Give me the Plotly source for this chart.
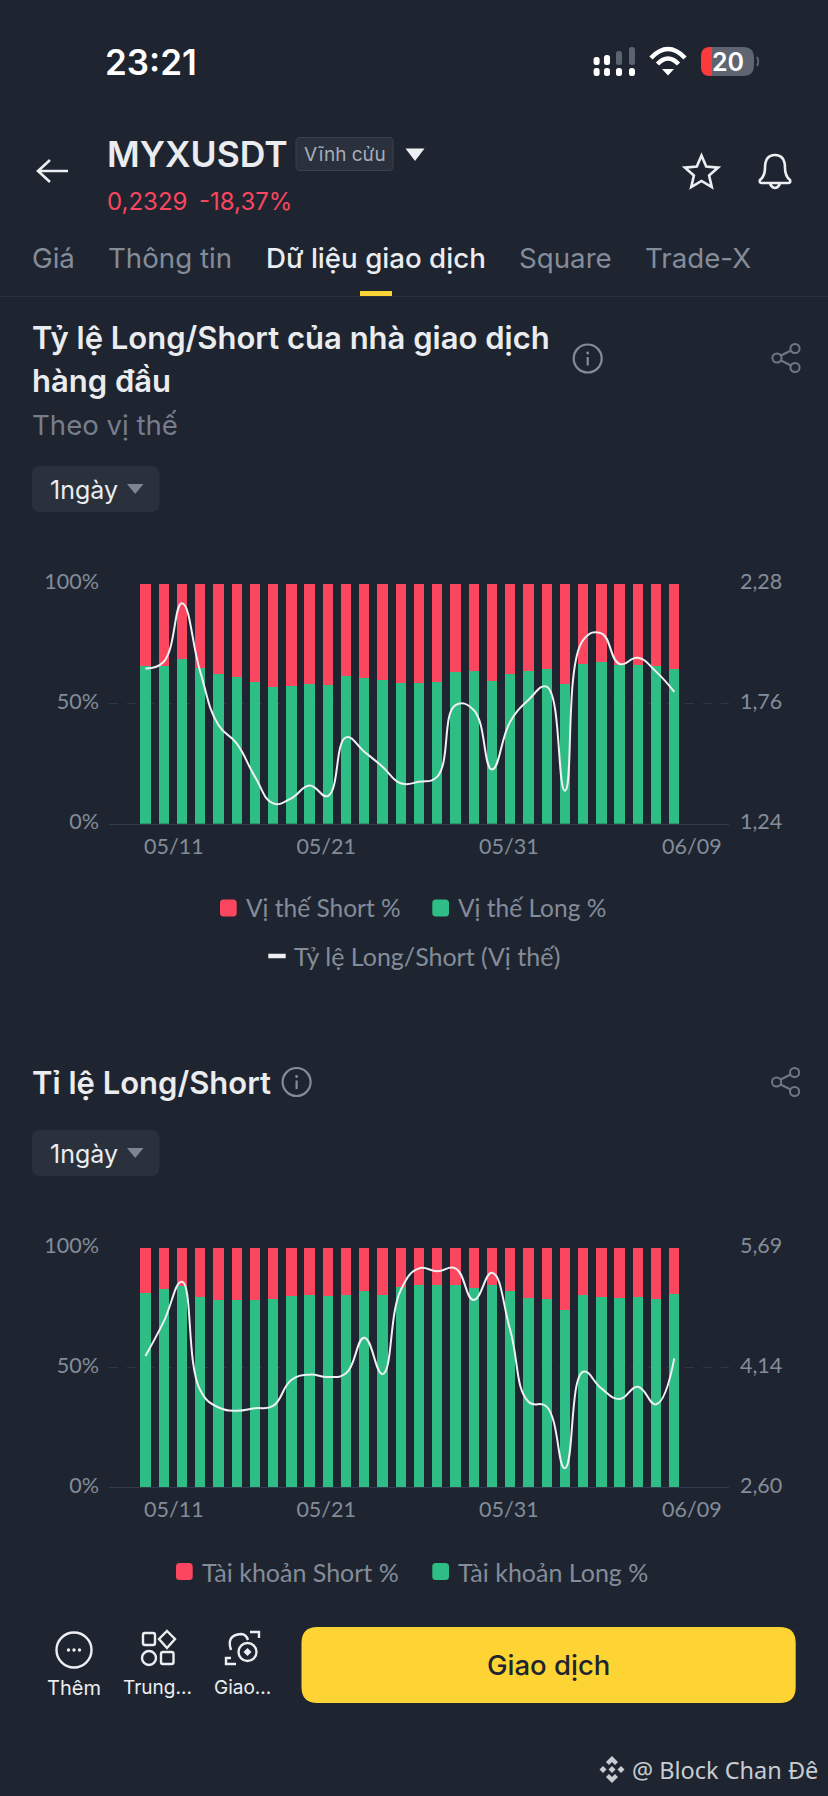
import re, math
import plotly.graph_objects as go

W, H = 828, 1796
BG = "#1e2530"
RED = "#fa465f"
GREEN = "#2ebd85"
GRAY = "#848c99"
FONT = "Inter"
CHART_FONT = "Lato"

DATES = ["05/11","05/12","05/13","05/14","05/15","05/16","05/17","05/18","05/19","05/20",
         "05/21","05/22","05/23","05/24","05/25","05/26","05/27","05/28","05/29","05/30",
         "05/31","06/01","06/02","06/03","06/04","06/05","06/06","06/07","06/08","06/09"]
TICK_TEXT = ["05/11", "05/21", "05/31", "06/09"]

POS_LONG = [65.6,65.8,68.5,65.0,62.5,61.1,58.9,56.8,57.2,58.3,57.6,61.7,60.8,59.7,58.5,
            58.6,59.2,63.3,63.5,59.4,62.5,63.8,64.6,58.1,66.7,67.4,66.0,66.1,65.6,64.3]
POS_SHORT = [34.4,34.2,31.5,35.0,37.5,38.9,41.1,43.2,42.8,41.7,42.4,38.3,39.2,40.3,41.5,
             41.4,40.8,36.7,36.5,40.6,37.5,36.2,35.4,41.9,33.3,32.6,34.0,33.9,34.4,35.7]
POS_RATIO = [1.913,1.942,2.195,1.899,1.668,1.588,1.444,1.328,1.350,1.406,1.360,1.614,1.552,1.487,1.415,
             1.422,1.444,1.754,1.733,1.475,1.682,1.776,1.834,1.383,2.036,2.065,1.932,1.959,1.899,1.811]
ACC_LONG = [80.9,82.6,84.0,79.4,78.3,78.2,78.3,78.6,79.8,80.1,80.0,80.4,81.8,80.3,83.4,
            84.3,84.3,84.3,83.3,84.3,82.1,79.0,78.4,74.1,80.1,79.4,78.9,79.6,78.6,80.8]
ACC_SHORT = [19.1,17.4,16.0,20.6,21.7,21.8,21.7,21.4,20.2,19.9,20.0,19.6,18.2,19.7,16.6,
             15.7,15.7,15.7,16.7,15.7,17.9,21.0,21.6,25.9,19.9,20.6,21.1,20.4,21.4,19.2]
ACC_RATIO = [4.293,4.736,5.252,3.855,3.631,3.588,3.619,3.649,3.984,4.053,4.023,4.070,4.530,4.061,5.144,
             5.424,5.385,5.424,5.015,5.368,4.628,3.704,3.640,2.845,4.091,3.876,3.739,3.898,3.670,4.263]

def fx(x): return x / W
def fy(y): return 1 - y / H

fig = go.Figure()
BAR_W = 0.565
LINE = "#eef0f2"

def add_chart(long_v, short_v, ratio, long_name, short_name, xa, ya, ya2, line_name):
    fig.add_bar(x=DATES, y=long_v, name=long_name, marker_color=GREEN, width=BAR_W, xaxis=xa, yaxis=ya, showlegend=False, marker_line_width=0)
    fig.add_bar(x=DATES, y=short_v, name=short_name, marker_color=RED, width=BAR_W, xaxis=xa, yaxis=ya, showlegend=False, marker_line_width=0)
    fig.add_scatter(x=DATES, y=ratio, name=line_name, mode="lines", line=dict(color=LINE, width=2, shape="spline", smoothing=1.3),
                    xaxis=xa, yaxis=ya2, showlegend=False)

add_chart(POS_LONG, POS_SHORT, POS_RATIO, "Vị thế Long %", "Vị thế Short %", "x", "y", "y3", "Tỷ lệ Long/Short (Vị thế)")
add_chart(ACC_LONG, ACC_SHORT, ACC_RATIO, "Tài khoản Long %", "Tài khoản Short %", "x2", "y2", "y4", "Tỉ lệ Long/Short")

axis_font = dict(family=CHART_FONT, size=21.5, color=GRAY)
GRID = "#2f3743"
XDOM = [fx(109), fx(729)]
def xaxis(anchor):
    return dict(domain=XDOM, anchor=anchor, type="category", categoryorder="array", categoryarray=DATES, automargin=False,
                range=[-2, 32], tickmode="array", tickvals=[1.56, 9.91, 19.93, 29.96], ticktext=TICK_TEXT,
                showgrid=False, zeroline=False, showline=True, linecolor="#343c49", linewidth=1,
                ticks="", tickfont=axis_font, ticklabelstandoff=3)
def yleft(dom, anchor):
    return dict(domain=dom, anchor=anchor, range=[0, 100], tickmode="array", tickvals=[0, 50, 100], automargin=False,
                ticktext=["0%", "50%", "100%"], showgrid=True, gridcolor=GRID, griddash="dash", gridwidth=1,
                zeroline=False, showline=False, ticks="", tickfont=axis_font, ticklabelstandoff=9, ticklabelshift=-2)
def yright(dom, anchor, over, rng, text):
    return dict(domain=dom, anchor=anchor, overlaying=over, side="right", range=[rng[0], rng[2]], tickmode="array", tickvals=rng,
                ticktext=text, showgrid=False, zeroline=False, showline=False, ticks="", tickfont=axis_font, automargin=False,
                ticklabelstandoff=10, ticklabelshift=-2)

D1 = [fy(823.7), fy(583.7)]
D2 = [fy(1487.3), fy(1247.7)]
layout = dict(
    width=W, height=H, autosize=False, margin=dict(l=0, r=0, t=0, b=0, pad=0),
    paper_bgcolor=BG, plot_bgcolor=BG, barmode="stack", showlegend=False, bargap=0.4,
    font=dict(family=FONT, color=GRAY),
    xaxis=xaxis("y"), xaxis2=xaxis("y2"),
    yaxis=yleft(D1, "x"), yaxis2=yleft(D2, "x2"),
    yaxis3=yright(D1, "x", "y", [1.24, 1.76, 2.28], ["1,24", "1,76", "2,28"]),
    yaxis4=yright(D2, "x2", "y2", [2.60, 4.14, 5.69], ["2,60", "4,14", "5,69"]),
)

ann, shp = [], []
def text(x, y, s, size, color=GRAY, anchor="left", weight=400, family=FONT):
    ann.append(dict(xref="paper", yref="paper", x=fx(x), y=fy(y), text=s, showarrow=False, xanchor=anchor, yanchor="middle",
                    borderpad=0, borderwidth=0, font=dict(family=family, size=size, color=color, weight=weight)))
def svg(d):
    toks = re.findall(r"[A-Za-z]|-?\d+\.?\d*", d)
    out, i = [], 0
    for t in toks:
        if t.isalpha():
            out.append(t); i = 0
        else:
            v = float(t)
            out.append(f"{(fx(v) if i % 2 == 0 else fy(v)):.6f}"); i += 1
    return " ".join(out)
def path(d, fill=None, stroke=None, width=2):
    s = dict(type="path", xref="paper", yref="paper", path=svg(d), line=dict(width=width if stroke else 0, color=stroke or "rgba(0,0,0,0)"))
    if fill: s["fillcolor"] = fill
    shp.append(s)
def rrect(x0, y0, x1, y1, r, fill=None, stroke=None, width=1):
    d = (f"M {x0+r} {y0} L {x1-r} {y0} Q {x1} {y0} {x1} {y0+r} L {x1} {y1-r} Q {x1} {y1} {x1-r} {y1} "
         f"L {x0+r} {y1} Q {x0} {y1} {x0} {y1-r} L {x0} {y0+r} Q {x0} {y0} {x0+r} {y0} Z")
    path(d, fill, stroke, width)
def circle(cx, cy, r, fill=None, stroke=None, width=2):
    s = dict(type="circle", xref="paper", yref="paper", x0=fx(cx-r), x1=fx(cx+r), y0=fy(cy-r), y1=fy(cy+r),
             line=dict(width=width if stroke else 0, color=stroke or "rgba(0,0,0,0)"))
    if fill: s["fillcolor"] = fill
    shp.append(s)

WHITE = "#eceef1"
# status bar
text(105, 62, "23:21", 35, "#ffffff", weight=600)
for cx, top, col in [(596.6, 57, "#ffffff"), (607, 55, "#ffffff"), (619, 51, "#5c6370"), (632, 47, "#5c6370")]:
    rrect(cx-3, top, cx+3, 65, 2.5, fill=col)
    rrect(cx-3, 68, cx+3, 76, 2.5, fill="#ffffff")
for r_, y_ in [(17, 58), (10.5, 64)]:
    path(f"M {668-r_} {y_} Q 668 {y_-r_*1.05} {668+r_} {y_}", stroke="#ffffff", width=4.5)
path("M 662 69 L 674 69 L 668 75.5 Z", fill="#ffffff")
rrect(701, 47, 754, 76, 11, fill="#5f6570")
path("M 712 47 L 712 76 L 710 76 Q 701 76 701 67 L 701 56 Q 701 47 710 47 Z", fill="#fb3b3b")
path("M 757 57 Q 759.5 61.5 757 66", stroke="#5f6570", width=2)
text(727.6, 62, "20", 25, "#ffffff", "center", 600)

# header
path("M 68 171 L 38 171 M 50 160 L 38 171 L 50 182", stroke=WHITE, width=2.6)
text(107, 154, "MYXUSDT", 35.5, "#eaecef", weight=600)
rrect(296, 137.5, 393, 170.5, 4, fill="#2a313d", stroke="#3a424f", width=1)
text(344.5, 154, "Vĩnh cửu", 19, "#a6adb8", "center")
path("M 405.5 148.5 L 424.5 148.5 L 415 161 Z", fill="#eef0f2")
text(107, 201, "0,2329", 24, RED)
text(199, 201, "-18,37%", 24, RED)
pts = []
for k in range(10):
    a = -math.pi/2 + k*math.pi/5
    r_ = 17.5 if k % 2 == 0 else 8
    pts.append((701.5 + r_*math.cos(a), 173 + r_*math.sin(a)))
path("M " + " L ".join(f"{a:.2f} {b:.2f}" for a, b in pts) + " Z", stroke=WHITE, width=2.6)
path("M 760 180 Q 765 176 765 168 Q 765 155 775 155 Q 785 155 785 168 Q 785 176 790 180 Q 791 183 788 183 L 762 183 Q 759 183 760 180 Z M 770 184 Q 775 192 780 184",
     stroke=WHITE, width=2.6)

# tabs
TAB = 27.7
text(32, 258, "Giá", TAB, "#848c99")
text(108, 258, "Thông tin", TAB, "#848c99")
text(266, 258, "Dữ liệu giao dịch", TAB, "#eaecef", weight=500)
text(518.5, 258, "Square", TAB, "#848c99")
text(645, 258, "Trade-X", TAB, "#848c99")
rrect(360, 291, 392, 296, 0, fill="#fcd535")
path("M 0 296.5 L 828 296.5", stroke="#2b323e", width=1)

def info(cx, cy, r=14):
    circle(cx, cy, r, stroke="#848c99", width=2.2)
    circle(cx, cy-5.5, 1.4, fill="#848c99")
    path(f"M {cx} {cy-1.5} L {cx} {cy+7}", stroke="#848c99", width=2.2)
def share(cx, cy):
    circle(cx-9, cy, 4.6, stroke="#6f7783", width=2)
    circle(cx+9, cy-9.5, 4.6, stroke="#6f7783", width=2)
    circle(cx+9, cy+9.5, 4.6, stroke="#6f7783", width=2)
    path(f"M {cx-5} {cy-2.5} L {cx+5} {cy-7.5} M {cx-5} {cy+2.5} L {cx+5} {cy+7.5}", stroke="#6f7783", width=2)
def dropdown(y0):
    rrect(32, y0, 159.5, y0+46, 9, fill="#2a313d")
    text(50, y0+23.5, "1ngày", 25, "#eaecef")
    path(f"M 127 {y0+18} L 143.5 {y0+18} L 135.2 {y0+28} Z", fill="#7d8592")

# chart 1 header
text(32, 337.5, "Tỷ lệ Long/Short của nhà giao dịch", 31, "#eaecef", weight=600)
text(32, 380.5, "hàng đầu", 31, "#eaecef", weight=600)
info(587.7, 358.5)
share(786, 358)
text(32, 425, "Theo vị thế", 27.6, "#767e8b")
dropdown(466)

# chart 1 legend
LEG = 24.5
rrect(220, 899.5, 236.7, 916.5, 3.5, fill=RED)
text(245.7, 907.7, "Vị thế Short %", LEG, family=CHART_FONT)
rrect(432.3, 899.5, 449, 916.5, 3.5, fill=GREEN)
text(457.7, 907.7, "Vị thế Long %", LEG, family=CHART_FONT)
path("M 268.3 956 L 285.7 956", stroke=LINE, width=4.5)
text(294.3, 956, "Tỷ lệ Long/Short (Vị thế)", 25, family=CHART_FONT)

# chart 2 header
text(32, 1082, "Tỉ lệ Long/Short", 31, "#eaecef", weight=600)
info(296.6, 1082)
share(785.6, 1082)
dropdown(1130)

# chart 2 legend
rrect(176, 1563, 192.7, 1580, 3.5, fill=RED)
text(201.7, 1571.7, "Tài khoản Short %", 25, family=CHART_FONT)
rrect(432.3, 1563, 449, 1580, 3.5, fill=GREEN)
text(457.7, 1571.7, "Tài khoản Long %", 25, family=CHART_FONT)

# bottom bar
circle(74, 1650, 17.5, stroke=WHITE, width=2.4)
for dx in (-5.5, 0, 5.5):
    circle(74+dx, 1650, 1.7, fill=WHITE)
text(74, 1688, "Thêm", 20, WHITE, "center")
rrect(143, 1633, 155, 1645, 2, stroke=WHITE, width=2.4)
path("M 167 1631 L 175 1639 L 167 1648 L 159 1639 Z", stroke=WHITE, width=2.4)
circle(149, 1658, 7, stroke=WHITE, width=2.4)
rrect(161, 1652, 173.5, 1664, 2, stroke=WHITE, width=2.4)
text(157, 1687, "Trung...", 19, WHITE, "center")
path("M 231 1658 L 226 1658 L 226 1664 L 236 1664 M 250 1632 L 259 1632 L 259 1638", stroke=WHITE, width=2.4)
path("M 231 1650 Q 226 1635 241 1634 Q 246 1634 248 1640", stroke=WHITE, width=2.4)
circle(247.5, 1652, 9, stroke=WHITE, width=2.4)
path("M 247.5 1648 L 251.5 1652 L 247.5 1656 L 243.5 1652 Z", fill=WHITE)
text(242, 1687, "Giao...", 19, WHITE, "center")
rrect(301.5, 1627, 795.7, 1703, 16, fill="#fdd433")
text(548, 1665, "Giao dịch", 27.5, "#1e2530", "center", 500)

# watermark
WM = "#c9ccd1"
path("M 612 1756 L 618 1762 L 615 1765 L 612 1762 L 609 1765 L 606 1762 Z", fill=WM)
path("M 612 1783 L 618 1777 L 615 1774 L 612 1777 L 609 1774 L 606 1777 Z", fill=WM)
path("M 612 1766 L 615.5 1769.5 L 612 1773 L 608.5 1769.5 Z", fill=WM)
path("M 603 1766 L 606.5 1769.5 L 603 1773 L 599.5 1769.5 Z", fill=WM)
path("M 621 1766 L 624.5 1769.5 L 621 1773 L 617.5 1769.5 Z", fill=WM)
text(632, 1770, "@ Block Chan Đê", 23.5, WM, family="Noto Sans")

layout["annotations"] = ann
layout["shapes"] = shp
fig.update_layout(**layout)
fig.write_html("out.html", config=dict(displayModeBar=False), post_script="document.body.style.margin='0';document.documentElement.style.overflow='hidden';")
